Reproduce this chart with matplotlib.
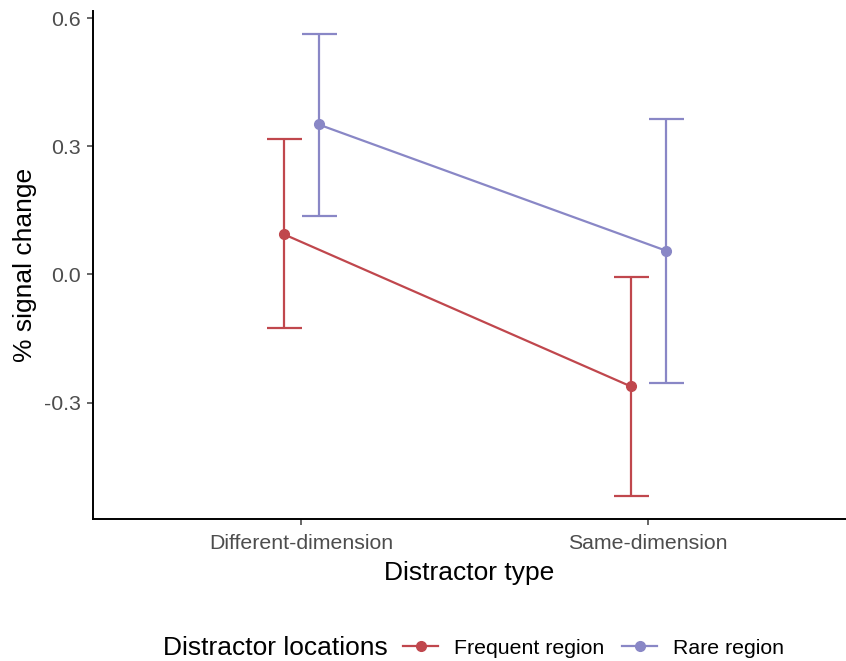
import numpy as np
import matplotlib.pyplot as plt
from matplotlib.lines import Line2D

plt.rcParams['font.family'] = ['Liberation Sans', 'DejaVu Sans']

categories = ['Different-dimension', 'Same-dimension']
groups = ['Frequent region', 'Rare region']
colors = ['#C0474D', '#8987C6']

means = {'Frequent region': [0.094, -0.262],
         'Rare region': [0.351, 0.056]}
upper = {'Frequent region': [0.316, -0.007],
         'Rare region': [0.562, 0.363]}
lower = {'Frequent region': [-0.126, -0.518],
         'Rare region': [0.136, -0.253]}

fig = plt.figure(figsize=(8.46, 6.61), dpi=100)
ax = fig.add_axes([0.110, 0.215, 0.89, 0.768])

x = np.arange(1, len(categories) + 1)
dodge = [-0.05, 0.05]
for g, c, d in zip(groups, colors, dodge):
    m = np.array(means[g])
    up = np.array(upper[g]) - m
    lo = m - np.array(lower[g])
    ax.errorbar(x + d, m, yerr=[lo, up], color=c, lw=1.6, capsize=12.6,
                capthick=1.6, marker='o', ms=7, label=g)

ax.set_xlim(0.4, 2.57)
ax.set_ylim(-0.572, 0.616)
ax.set_xticks(x)
ax.set_xticklabels(categories)
ax.set_yticks([-0.3, 0.0, 0.3, 0.6])
ax.set_yticklabels(['-0.3', '0.0', '0.3', '0.6'])
ax.tick_params(colors='#4D4D4D', labelsize=15.3, length=4, width=1.2)
ax.tick_params(axis='x', pad=7)
ax.tick_params(axis='y', pad=5)
for s in ['top', 'right']:
    ax.spines[s].set_visible(False)
for s in ['left', 'bottom']:
    ax.spines[s].set_linewidth(1.4)
ax.set_xlabel('Distractor type', fontsize=19, labelpad=6)
ax.set_ylabel('% signal change', fontsize=19, labelpad=5)

# legend: title on the left, entries in one row
ly = 1 - 648 / 661
fig.text(163 / 846, ly, 'Distractor locations', fontsize=19, va='center', ha='left')
handles = [Line2D([], [], color=c, lw=1.6, marker='o', ms=7) for c in colors]
fig.legend(handles, groups, loc='center left', bbox_to_anchor=(403 / 846, ly),
           ncol=2, frameon=False, fontsize=15.3, handlelength=1.65,
           handletextpad=0.75, columnspacing=0.85, borderpad=0, borderaxespad=0)

fig.savefig('out.png', dpi=100)
